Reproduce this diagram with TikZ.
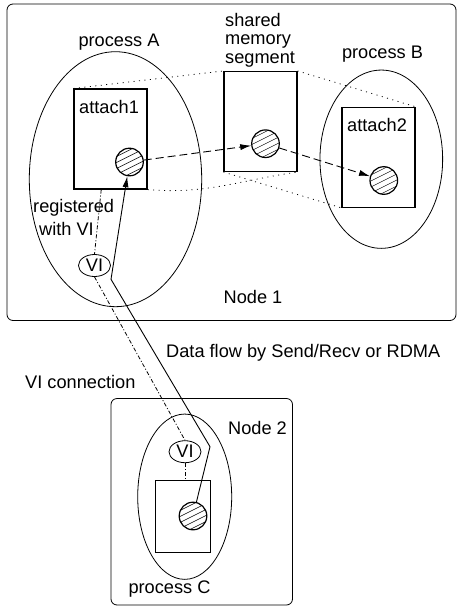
\documentclass[tikz,border=0pt]{standalone}
\usepackage{fontspec}
\setmainfont{Liberation Sans}
\usetikzlibrary{calc,shapes.geometric,arrows.meta}

\tikzset{
  hostframe/.style={draw, line width=0.8pt, rounded corners=6pt},
  procoval/.style={ellipse, draw, line width=0.8pt, inner sep=0pt},
  segbox/.style={rectangle, draw, line width=1.1pt, inner sep=0pt},
  vioval/.style={ellipse, draw, line width=0.8pt, inner sep=0pt, minimum width=32pt, minimum height=22pt},
  hatchdisk/.style={circle, draw, line width=1.2pt, minimum size=27.6pt, inner sep=0pt,
    path picture={
      \foreach \k in {-4,...,4}{
        \draw[line width=0.5pt] ($(path picture bounding box.center)+(-20,\k*6+10)$) -- ++(40,-20);
      }}},
  lbl/.style={inner sep=0pt},
  mapline/.style={line width=0.8pt, dash pattern=on 1pt off 4.5pt},
  copyflow/.style={line width=0.9pt, dash pattern=on 8pt off 4pt, -{Latex[length=11pt,width=6pt]}},
  vilink/.style={line width=0.8pt, dash pattern=on 4pt off 2pt on 1pt off 2pt},
  dataflow/.style={line width=0.9pt, -{Latex[length=11pt,width=6pt]}}
}

\begin{document}
\begin{tikzpicture}[x=1pt, y=-1pt, font=\fontsize{18.2}{18.5}\selectfont]
  \useasboundingbox (0,0) rectangle (457,606);

  % host frames
  \draw[hostframe] (7,4) rectangle (456,320.5);
  \draw[hostframe] (111,398.5) rectangle (292.5,605);

  % processes
  \node[procoval, minimum width=172.4pt, minimum height=255pt] (procA) at (115.5,179.2) {};
  \node[procoval, minimum width=122.7pt, minimum height=178.3pt] (procB) at (381.3,159.2) {};
  \node[procoval, minimum width=94pt, minimum height=165.3pt] (procC) at (184.7,496.7) {};

  % memory regions
  \node[segbox, minimum width=73pt, minimum height=100pt] (att1) at (110.5,139) {};
  \node[segbox, minimum width=73pt, minimum height=100pt] (shm) at (260.5,121.5) {};
  \node[segbox, minimum width=73pt, minimum height=100pt] (att2) at (378.5,157.3) {};
  \node[segbox, minimum width=55pt, minimum height=72pt] (bufC) at (183.3,516.2) {};

  % buffers
  \node[hatchdisk] (d1) at (129.5,162) {};
  \node[hatchdisk] (d2) at (265.5,143.7) {};
  \node[hatchdisk] (d3) at (383.8,180.5) {};
  \node[hatchdisk] (d4) at (193,516) {};

  % virtual interfaces
  \node[vioval] (vi1) at (94.5,265.5) {VI};
  \node[vioval] (vi2) at (185,451.7) {VI};

  % labels
  \node[lbl, anchor=base] (lA) at (119,46) {process A};
  \node[lbl, anchor=base] (lB) at (382.5,58) {process B};
  \node[lbl, anchor=base] (lC) at (169.5,593) {process C};
  \node[lbl, anchor=north west, align=left] (lshm) at (225,13) {shared\\memory\\segment};
  \node[lbl, anchor=base west] (la1) at (79,113) {attach1};
  \node[lbl, anchor=base west] (la2) at (347,131) {attach2};
  \node[lbl, anchor=north west, align=left] (lreg) at (33,199) {registered\\[4.5pt]\hspace*{6pt}with VI};
  \node[lbl, anchor=base] (ln1) at (253,303) {Node 1};
  \node[lbl, anchor=base] (ln2) at (257.5,434) {Node 2};
  \node[lbl, anchor=base west] (lflow) at (166,357) {Data flow by Send/Recv or RDMA};
  \node[lbl, anchor=base west] (lconn) at (25,388) {VI connection};

  % attachment of the shared segment
  \draw[mapline] (att1.north west) -- (shm.north west);
  \draw[mapline] (shm.north east) -- (att2.north east);
  \draw[mapline] (att1.south east) to[out=-5, in=188] (shm.south east);
  \draw[mapline] (shm.south west) -- (att2.south west);

  % local copies through the segment
  \draw[copyflow] (d1) -- (d2);
  \draw[copyflow] (d2) -- (d3);

  % registration and VI connection
  \coordinate (regpt) at ($(att1.south)!0.25!(att1.south west)$);
  \draw[vilink] (regpt) -- (vi1.north);
  \draw[vilink] (vi1.south) -- (vi2.north);
  \draw[vilink] (vi2.south) -- (vi2.south |- bufC.north);

  % remote data flow
  \coordinate (bendC) at (210,446.7);
  \coordinate (bendA) at (111,279.3);
  \draw[dataflow] (d4) -- (bendC) -- (bendA) -- (d1);
\end{tikzpicture}
\end{document}
